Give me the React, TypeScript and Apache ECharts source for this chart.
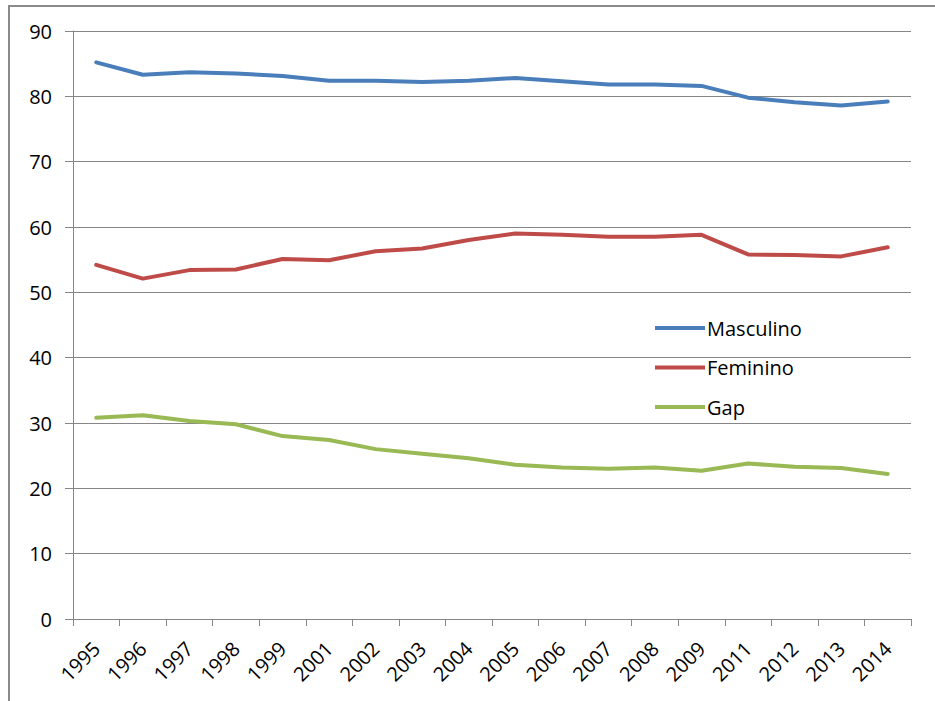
import React, { useEffect, useRef } from "react";
import * as echarts from "echarts";

const years = ["1995","1996","1997","1998","1999","2001","2002","2003","2004","2005","2006","2007","2008","2009","2011","2012","2013","2014"];
const masculino = [85.2,83.3,83.7,83.5,83.1,82.4,82.4,82.2,82.4,82.8,82.3,81.8,81.8,81.6,79.8,79.1,78.6,79.2];
const feminino = [54.2,52.1,53.4,53.5,55.1,54.9,56.3,56.7,58.0,59.0,58.8,58.5,58.5,58.8,55.8,55.7,55.5,56.9];
const gap = [30.8,31.2,30.3,29.8,28.0,27.4,26.0,25.3,24.6,23.6,23.2,23.0,23.2,22.7,23.8,23.3,23.1,22.2];
const seriesNames = ["Masculino", "Feminino", "Gap"];
const colors = ["#4A7EBB", "#BE4B48", "#98B954"];

const FONT = "'Open Sans', 'Noto Sans', sans-serif";

export default function App() {
  const ref = useRef<HTMLDivElement>(null);
  useEffect(() => {
    if (!ref.current) return;
    const chart = echarts.init(ref.current, undefined, { renderer: "svg" });
    const dataSets = [masculino, feminino, gap];
    chart.setOption({
      animation: false,
      backgroundColor: "#ffffff",
      graphic: [
        {
          type: "rect",
          shape: { x: 9, y: 6, width: 1000, height: 1000 },
          style: { fill: "none", stroke: "#8a8a8a", lineWidth: 2 },
          silent: true,
          z: 0,
        },
      ],
      grid: { left: 73, top: 31, right: 24, bottom: 82, containLabel: false },
      legend: {
        orient: "vertical",
        left: 650,
        top: 312,
        itemWidth: 50,
        itemHeight: 4,
        itemGap: 17.5,
        icon: "rect",
        data: seriesNames,
        textStyle: { fontFamily: FONT, fontSize: 20, color: "#000", lineHeight: 22, padding: [0, 0, 0, -3] },
      },
      xAxis: {
        type: "category",
        data: years,
        boundaryGap: true,
        axisLine: { lineStyle: { color: "#868686", width: 1 } },
        axisTick: { show: true, length: 7, lineStyle: { color: "#868686" } },
        axisLabel: {
          rotate: 45,
          interval: 0,
          margin: 26,
          fontFamily: FONT,
          fontSize: 20,
          color: "#000",
        },
        splitLine: { show: false },
      },
      yAxis: {
        type: "value",
        min: 0,
        max: 90,
        interval: 10,
        axisLine: { show: true, lineStyle: { color: "#868686", width: 1 } },
        axisTick: { show: true, length: 8, lineStyle: { color: "#868686" } },
        axisLabel: { margin: 21, fontFamily: FONT, fontSize: 20, color: "#000" },
        splitLine: { show: true, lineStyle: { color: "#868686", width: 1 } },
      },
      series: seriesNames.map((name, i) => ({
        name,
        type: "line",
        data: dataSets[i],
        symbol: "none",
        smooth: false,
        itemStyle: { color: colors[i] },
        lineStyle: { color: colors[i], width: 4, cap: "round", join: "round" },
      })),
    });
    return () => chart.dispose();
  }, []);
  return (
    <div
      ref={ref}
      style={{ position: "fixed", left: 0, top: 0, width: 935, height: 701, background: "#fff" }}
    />
  );
}
